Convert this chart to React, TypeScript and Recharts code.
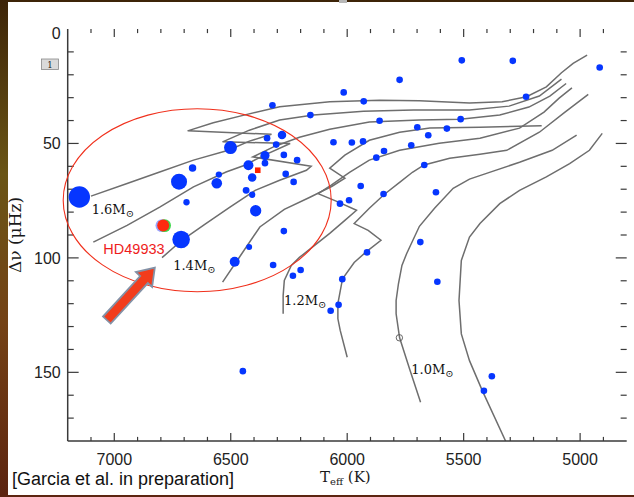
import React from 'react';
import { ComposedChart, Line, Scatter, XAxis, YAxis, ZAxis, ReferenceDot, ReferenceLine } from 'recharts';

type Pt = [number, number];

// evolutionary tracks: [Teff (K), large separation (μHz)]
const track16: Pt[] = [
  [7100, 73], [6945, 67.5], [6805, 62.5], [6660, 57.3], [6510, 53], [6420, 49], [6325, 46],
  [6685, 44.5], [6575, 41], [6430, 37.3], [6290, 34], [6075, 31.8], [5860, 31.1], [5690, 31.4],
  [5475, 32.3], [5335, 31.8], [5230, 29.6], [5145, 25.3], [5080, 19.1], [5030, 15], [4970, 11.4],
];
const track15: Pt[] = [
  [7090, 93.1], [6945, 85.8], [6805, 77.8], [6660, 69], [6520, 62.5], [6440, 59.5], [6355, 55.1],
  [6245, 50], [6535, 49.3], [6420, 44.2], [6290, 39.8], [6145, 37.6], [5930, 35.9], [5715, 35.4],
  [5475, 35.4], [5305, 33.7], [5175, 29.3], [5080, 21.9],
];
const track14: Pt[] = [
  [6795, 99.9], [6710, 92.3], [6610, 85.3], [6505, 77.9], [6395, 70.5], [6290, 66.1], [6175, 61.7],
  [6155, 60], [6405, 55.9], [6310, 51.2], [6205, 47.3], [6075, 43.8], [5905, 40.6], [5690, 39.8],
  [5515, 39.4], [5345, 37.6], [5220, 34.1], [5130, 29.3], [5060, 23.8],
];
const track13: Pt[] = [
  [6535, 110.6], [6460, 99.3], [6375, 86.5], [6270, 78.8], [6160, 73.5], [6065, 68.7], [6010, 65.2],
  [6075, 60.8], [6010, 55.1], [5905, 48.6], [5775, 45.1], [5645, 43.3], [5430, 42.9], [5165, 42.3],
];
const track12: Pt[] = [
  [6275, 124.4], [6275, 116.4], [6270, 109.8], [6240, 103.3], [6205, 99.8], [6140, 94.5], [6075, 89.3],
  [6010, 83.6], [5960, 79.2], [6045, 75.3], [6125, 71.9], [6070, 68.3], [5990, 62.6], [5905, 57.3],
  [5775, 53], [5605, 49.9], [5430, 47.7], [5260, 43.3], [5155, 36.3], [5090, 30.2], [5035, 25.7],
];
const track11: Pt[] = [
  [6000, 143.4], [6030, 131.7], [6040, 126.6], [6040, 120], [6020, 109.1], [5970, 102], [5920, 97.5],
  [5855, 92.3], [5910, 88], [5970, 85], [5905, 78.3], [5840, 72.2], [5775, 67], [5720, 62.6],
  [5670, 59.4], [5560, 56.5], [5430, 54.7], [5315, 53], [5175, 45.1], [5065, 36.3], [4965, 28.6],
];
const track10: Pt[] = [
  [5685, 163.1], [5730, 149.2], [5775, 134.9], [5790, 124.4], [5790, 118.6], [5780, 111.3],
  [5765, 103.3], [5745, 98.2], [5690, 86.2], [5625, 78.3], [5545, 69.6], [5475, 65.6],
  [5405, 63.2], [5260, 58.2], [5120, 53], [5015, 46.4],
];
const track09: Pt[] = [
  [5320, 180], [5420, 158], [5475, 144.9], [5510, 133.2], [5520, 118.6], [5510, 101.1], [5475, 90.9],
  [5430, 85], [5345, 76.3], [5260, 70.5], [5145, 64.6], [5045, 58.8], [4960, 53], [4905, 45.6],
];
const tracks = [track16, track15, track14, track13, track12, track11, track10, track09];

// stars: [Teff, Δν, marker weight]
const stars: [number, number, number][] = [
  [7150, 73.4, 114], [6321, 33.3, 11], [6158, 37.6, 11], [6280, 46.3, 18], [6501, 51.8, 42],
  [6344, 47.7, 11], [6305, 50.5, 11], [6353, 55.3, 21], [6272, 55.0, 11], [6215, 57.3, 11],
  [6424, 59.5, 25], [6353, 58.6, 11], [6664, 60.7, 14], [6551, 63.6, 10], [6408, 64.9, 18],
  [6264, 63.3, 11], [6230, 66.8, 11], [6722, 66.7, 64], [6560, 67.4, 28], [6434, 70.5, 12],
  [6408, 72.4, 10], [6690, 75.7, 10], [6393, 79.4, 32], [6272, 88.3, 11], [6713, 92.0, 77],
  [6421, 95.2, 9], [6483, 101.7, 25], [6318, 103.1, 11], [6233, 107.8, 11], [6200, 105.3, 11],
  [6448, 149.5, 11], [5508, 13.7, 11], [5289, 13.9, 11], [4916, 16.8, 11], [5775, 22.2, 11],
  [6015, 27.7, 11], [5929, 31.6, 11], [5232, 29.6, 11], [5861, 40.1, 11], [5513, 39.4, 11],
  [5699, 42.9, 11], [5572, 43.5, 11], [5652, 46.4, 11], [6059, 49.5, 11], [5980, 49.6, 11],
  [5932, 49.1, 11], [5725, 50.8, 11], [5842, 53.3, 11], [5875, 56.2, 11], [5669, 59.4, 11],
  [5942, 68.6, 11], [5844, 72.1, 11], [5619, 71.3, 11], [6031, 76.3, 11], [5992, 74.8, 11],
  [5686, 93.1, 11], [5915, 97.6, 11], [6021, 109.3, 11], [5613, 110.4, 11], [6037, 120.5, 11],
  [6071, 123.1, 11], [5379, 151.7, 11], [5413, 158.1, 11],
];
const hd49933: Pt = [6790, 85.9];
const redSquare: Pt = [6384, 61.7];
const sunMarker: Pt = [5776, 134.9];

const massLabels: { t: number; d: number; text: string }[] = [
  { t: 7097, d: 80.7, text: '1.6M' },
  { t: 6747, d: 105.5, text: '1.4M' },
  { t: 6271, d: 120.4, text: '1.2M' },
  { t: 5725, d: 150.7, text: '1.0M' },
];
const ellipseCenter: Pt = [6644, 74.8];
const arrowTip: Pt = [6826, 104.3];
const starLabel = { t: 7047, d: 98.5, text: 'HD49933' };

const X_MIN = 4800;
const X_MAX = 7200;
const Y_MIN = 0;
const Y_MAX = 180;
const xTicks = [
  4900, 5000, 5100, 5200, 5300, 5400, 5500, 5600, 5700, 5800, 5900, 6000,
  6100, 6200, 6300, 6400, 6500, 6600, 6700, 6800, 6900, 7000, 7100,
];
const xLabels = [5000, 5500, 6000, 6500, 7000];
const yTicks = [10, 20, 30, 40, 50, 60, 70, 80, 90, 100, 110, 120, 130, 140, 150, 160, 170];
const yLabels = [0, 50, 100, 150];

// inward tick lengths, in axis units (IDL-style box ticks)
const X_TICK_MAJOR = 3.5;
const X_TICK_MINOR = 1.8;
const Y_TICK_MAJOR = 47;
const Y_TICK_MINOR = 26;

const AXIS = '#3a3a3a';
const BLUE = '#0636ff';
const TRACK = '#6e6e6e';
const SANS = '"Liberation Sans", Arial, sans-serif';
const SERIF = '"DejaVu Serif", serif';

const toObj = (p: Pt) => ({ t: p[0], d: p[1] });

function XLabelTick({ x, y, payload }: any) {
  return (
    <text x={x} y={y + 24} textAnchor="middle" fontFamily={SANS} fontSize={16} fill="#222">
      {payload.value}
    </text>
  );
}

function YLabelTick({ x, y, payload }: any) {
  return (
    <text x={x - 7} y={y + (payload.value === 0 ? 10 : 6)} textAnchor="end" fontFamily={SANS}
      fontSize={16} fill="#222">
      {payload.value}
    </text>
  );
}

function TargetStar({ cx, cy }: any) {
  return (
    <g>
      <circle cx={cx - 1.3} cy={cy} r={6.4} fill="#9aa6ff" />
      <circle cx={cx + 1.4} cy={cy} r={6.4} fill="#3fd84c" />
      <circle cx={cx} cy={cy} r={6} fill="#ff2a10" />
    </g>
  );
}

export default function App() {
  const starData = stars.map(([t, d, z]) => ({ t, d, z }));
  const tickStyle = { stroke: AXIS, strokeWidth: 1.2, ifOverflow: 'visible' as const };
  return (
    <div style={{ position: 'absolute', left: 0, top: 0, width: 634, height: 497, overflow: 'hidden',
      background: 'linear-gradient(180deg, #3d2408 0%, #6a5516 35%, #744216 65%, #5c2410 100%)' }}>
      <div style={{ position: 'absolute', left: 8, top: 2, width: 626, height: 493, background: '#fff' }} />
      <div style={{ position: 'absolute', left: 0, top: 0 }}>
        <ComposedChart width={634} height={497} margin={{ top: 29, right: 7.3, bottom: 0, left: 0 }}>
          <XAxis dataKey="t" type="number" domain={[X_MIN, X_MAX]} reversed allowDataOverflow
            ticks={xLabels} interval={0} height={56} tickSize={0} tickMargin={0} tickLine={false}
            axisLine={{ stroke: AXIS, strokeWidth: 1.5 }} tick={<XLabelTick />} />
          <XAxis xAxisId="top" orientation="top" dataKey="t" type="number" domain={[X_MIN, X_MAX]} reversed
            allowDataOverflow height={0} tick={false} tickLine={false}
            axisLine={{ stroke: AXIS, strokeWidth: 1.5 }} />
          <YAxis dataKey="d" type="number" domain={[Y_MIN, Y_MAX]} reversed allowDataOverflow ticks={yLabels}
            interval={0} width={67.7} tickSize={0} tickMargin={0} tickLine={false}
            axisLine={{ stroke: AXIS, strokeWidth: 1.5 }} tick={<YLabelTick />} />
          <YAxis yAxisId="r" orientation="right" dataKey="d" type="number" domain={[Y_MIN, Y_MAX]} reversed
            allowDataOverflow width={0} tick={false} tickLine={false}
            axisLine={{ stroke: AXIS, strokeWidth: 1.5 }} />
          <ZAxis dataKey="z" type="number" domain={[0, 120]} range={[0, 377]} />

          {xTicks.map((v) => {
            const len = xLabels.includes(v) ? X_TICK_MAJOR : X_TICK_MINOR;
            return [
              <ReferenceLine key={`xb${v}`} {...tickStyle} segment={[{ x: v, y: Y_MAX }, { x: v, y: Y_MAX - len }]} />,
              <ReferenceLine key={`xt${v}`} {...tickStyle} segment={[{ x: v, y: Y_MIN }, { x: v, y: Y_MIN + len }]} />,
            ];
          })}
          {yTicks.map((v) => {
            const len = yLabels.includes(v) ? Y_TICK_MAJOR : Y_TICK_MINOR;
            return [
              <ReferenceLine key={`yl${v}`} {...tickStyle} segment={[{ x: X_MAX, y: v }, { x: X_MAX - len, y: v }]} />,
              <ReferenceLine key={`yr${v}`} {...tickStyle} segment={[{ x: X_MIN, y: v }, { x: X_MIN + len, y: v }]} />,
            ];
          })}

          {tracks.map((tr, i) => (
            <Line key={i} data={tr.map(toObj)} dataKey="d" type="linear" stroke={TRACK} strokeWidth={1.5}
              dot={false} activeDot={false} isAnimationActive={false} />
          ))}

          <Scatter data={starData} fill={BLUE} isAnimationActive={false} />
          <Scatter data={[toObj(redSquare)]} isAnimationActive={false}
            shape={({ cx, cy }: any) => <rect x={cx - 2.8} y={cy - 2.8} width={5.6} height={5.6} fill="#ff2200" />} />
          <Scatter data={[toObj(sunMarker)]} isAnimationActive={false}
            shape={({ cx, cy }: any) => <circle cx={cx} cy={cy} r={3.2} fill="none" stroke="#555" strokeWidth={0.9} />} />
          <Scatter data={[toObj(hd49933)]} isAnimationActive={false} shape={<TargetStar />} />

          {massLabels.map((l) => (
            <ReferenceDot key={l.text + l.d} x={l.t} y={l.d} r={0} ifOverflow="visible"
              shape={({ cx, cy }: any) => (
                <text x={cx} y={cy} fontFamily={SERIF} fontSize={13} fill="#111">
                  {l.text}
                  <tspan fontSize={10} dy={3}>⊙</tspan>
                </text>
              )} />
          ))}
          <ReferenceDot x={starLabel.t} y={starLabel.d} r={0} ifOverflow="visible"
            shape={({ cx, cy }: any) => (
              <text x={cx} y={cy} fontFamily={SANS} fontSize={14.5} fill="#ee1c1c">{starLabel.text}</text>
            )} />
          <ReferenceDot x={ellipseCenter[0]} y={ellipseCenter[1]} r={0} ifOverflow="visible"
            shape={({ cx, cy }: any) => (
              <ellipse cx={cx} cy={cy} rx={134} ry={91.5} fill="none" stroke="#f0301c" strokeWidth={1.1} />
            )} />
          <ReferenceDot x={arrowTip[0]} y={arrowTip[1]} r={0} ifOverflow="visible"
            shape={({ cx, cy }: any) => (
              <g transform={`translate(${cx},${cy}) rotate(-47.5)`}>
                <polygon points="0,0 -16,-11 -16,-5.2 -71,-5.2 -71,5.2 -16,5.2 -16,11"
                  fill="#f23c1c" stroke="#8391a6" strokeWidth={1.8} strokeLinejoin="miter" />
              </g>
            )} />
        </ComposedChart>
      </div>
      <svg width={634} height={497} style={{ position: 'absolute', left: 0, top: 0, pointerEvents: 'none' }}>
        <rect x={339} y={0} width={8} height={3} fill="#b8b8b8" />
        <rect x={41.5} y={59} width={17} height={10.5} fill="#dadada" stroke="#888" strokeWidth={0.8} />
        <text x={50} y={67.5} textAnchor="middle" fontFamily={SERIF} fontSize={8.5} fill="#222">1</text>
        <text transform="translate(21,235) rotate(-90)" textAnchor="middle" fontFamily={SERIF} fontSize={17} fill="#1a1a1a">
          Δν (μHz)
        </text>
        <text x={320} y={482} fontFamily={SERIF} fontSize={15} fill="#1a1a1a">
          T<tspan fontSize={10} dy={3}>eff</tspan><tspan dy={-3}> (K)</tspan>
        </text>
        <text x={12} y={485} fontFamily={SANS} fontSize={18} fill="#111">[Garcia et al. in preparation]</text>
      </svg>
    </div>
  );
}
